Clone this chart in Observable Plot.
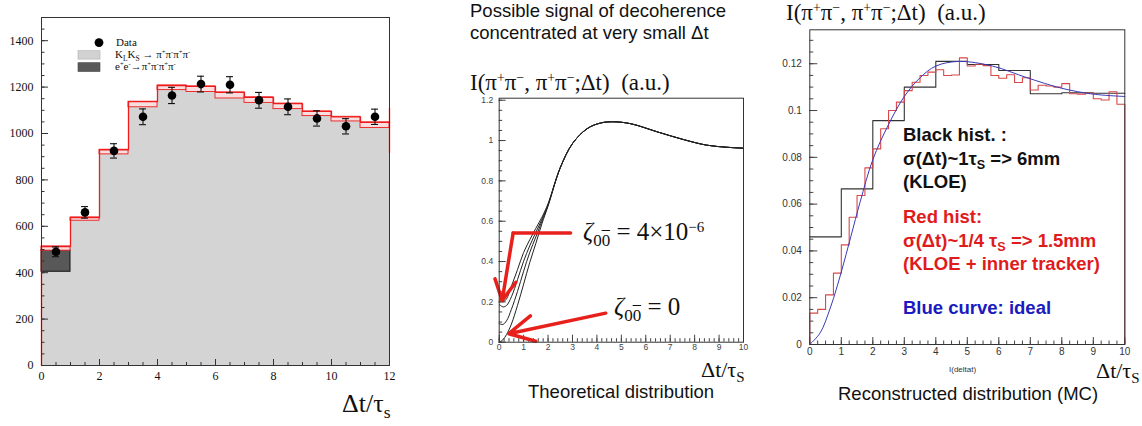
<!DOCTYPE html>
<html><head><meta charset="utf-8">
<script src="https://cdn.jsdelivr.net/npm/d3@7"></script>
<script src="https://cdn.jsdelivr.net/npm/@observablehq/plot@0.6"></script>
<style>
body{margin:0;background:#fff;}
#wrap{position:relative;width:1142px;height:426px;overflow:hidden;background:#fff;}
.abs{position:absolute;white-space:nowrap;line-height:1.1;}
.sans{font-family:"Liberation Sans",Arial,sans-serif;}
.serif{font-family:"Liberation Serif","Times New Roman",serif;}
sup{font-size:0.6em;vertical-align:0.55em;line-height:0;}
sub{font-size:0.68em;vertical-align:-0.35em;line-height:0;}
.ov{text-decoration:overline;}
</style></head><body>
<div id="wrap">
  <div id="p1" class="abs" style="left:0;top:0"></div>
  <div id="p2" class="abs" style="left:460px;top:90px"></div>
  <div id="p3" class="abs" style="left:770px;top:20px"></div>

  <!-- panel 1 legend -->
  <svg class="abs" style="left:0;top:0" width="260" height="80">
    <circle cx="99" cy="42.6" r="4.4" fill="#000"/>
    <rect x="78" y="50.7" width="22" height="8.4" fill="#d2d2d2" stroke="#b0b0b0" stroke-width="0.6"/>
    <rect x="78" y="62.7" width="22" height="8.8" fill="#5a5a5a" stroke="#444" stroke-width="0.6"/>
  </svg>
  <div class="abs serif" style="left:116px;top:36px;font-size:11px;color:#111">Data</div>
  <div class="abs serif" style="left:115px;top:47.5px;font-size:11px;color:#111">K<sub>L</sub>K<sub>S</sub> → π<sup>+</sup>π<sup>-</sup>π<sup>+</sup>π<sup>-</sup></div>
  <div class="abs serif" style="left:115px;top:60px;font-size:11px;color:#111">e<sup>+</sup>e<sup>-</sup>→π<sup>+</sup>π<sup>-</sup>π<sup>+</sup>π<sup>-</sup></div>
  <div class="abs serif" style="left:342px;top:390px;font-size:26px;color:#111">Δt/τ<sub>s</sub></div>

  <!-- panel 2 texts -->
  <div class="abs sans" style="left:470px;top:1px;font-size:18.5px;color:#111">Possible signal of decoherence</div>
  <div class="abs sans" style="left:470px;top:23px;font-size:18.5px;color:#111">concentrated at very small Δt</div>
  <div class="abs serif" style="left:470px;top:70px;font-size:23px;color:#111">I(π<sup>+</sup>π<sup>−</sup>, π<sup>+</sup>π<sup>−</sup>;Δt)&nbsp;&nbsp;(a.u.)</div>
  <div class="abs serif" style="left:583px;top:218px;font-size:25px;color:#111"><i>ζ</i><sub>0<span class="ov">0</span></sub> = 4×10<sup>−6</sup></div>
  <div class="abs serif" style="left:614px;top:293px;font-size:25px;color:#111"><i>ζ</i><sub>0<span class="ov">0</span></sub> = 0</div>
  <div class="abs serif" style="left:701px;top:358px;font-size:22px;color:#111">Δt/τ<sub>S</sub></div>
  <div class="abs sans" style="left:528px;top:382px;font-size:18.5px;color:#111">Theoretical distribution</div>

  <!-- panel 3 texts -->
  <div class="abs serif" style="left:786px;top:0px;font-size:23px;color:#111">I(π<sup>+</sup>π<sup>−</sup>, π<sup>+</sup>π<sup>−</sup>;Δt)&nbsp;&nbsp;(a.u.)</div>
  <div class="abs sans" style="left:903px;top:125px;font-size:18.5px;font-weight:bold;color:#111">Black hist. :</div>
  <div class="abs sans" style="left:903px;top:149px;font-size:18.5px;font-weight:bold;color:#111">σ(Δt)~1τ<sub>S</sub> =&gt; 6mm</div>
  <div class="abs sans" style="left:903px;top:172px;font-size:18.5px;font-weight:bold;color:#111">(KLOE)</div>
  <div class="abs sans" style="left:903px;top:207px;font-size:18.5px;font-weight:bold;color:#e01b1b">Red hist:</div>
  <div class="abs sans" style="left:903px;top:231px;font-size:18.5px;font-weight:bold;color:#e01b1b">σ(Δt)~1/4 τ<sub>S</sub> =&gt; 1.5mm</div>
  <div class="abs sans" style="left:903px;top:254px;font-size:18.5px;font-weight:bold;color:#e01b1b">(KLOE + inner tracker)</div>
  <div class="abs sans" style="left:903px;top:298px;font-size:18.5px;font-weight:bold;color:#1a1ac0">Blue curve: ideal</div>
  <div class="abs sans" style="left:949px;top:366px;font-size:8px;color:#333">I(deltat)</div>
  <div class="abs serif" style="left:1096px;top:359px;font-size:22px;color:#111">Δt/τ<sub>S</sub></div>
  <div class="abs sans" style="left:838px;top:384px;font-size:18.5px;color:#111">Reconstructed distribution (MC)</div>
</div>
<script>
// ---------------- Panel 1 data (bins of width 1 in Δt/τs) ----------------
const p1BinStart = [0,1,2,3,4,5,6,7,8,9,10,11];
const p1KLKS     = [404, 631, 920, 1125, 1197, 1191, 1164, 1144, 1117, 1085, 1062, 1036];
const p1EE       = [93, 0, 0, 0, 0, 0, 0, 0, 0, 0, 0, 0];
const p1McTotal  = [504, 631, 920, 1125, 1197, 1191, 1164, 1144, 1117, 1085, 1062, 1036];
const p1McErr    = [9, 7, 10, 12, 10, 12, 13, 12, 12, 10, 10, 12];
const p1Data     = [490, 660, 925, 1072, 1164, 1213, 1210, 1143, 1115, 1065, 1031, 1072];
const p1DataErr  = [21, 25, 31, 34, 35, 34, 35, 34, 34, 33, 33, 33];
const p1RightEdge = [913, 1108];
const p1XTicks = [0,2,4,6,8,10,12];
const p1YTicks = [0,200,400,600,800,1000,1200,1400];

// ---------------- Panel 2 data (theoretical curves) ----------------
const p2X      = [0,0.15,0.3,0.5,0.75,1.0,1.25,1.5,1.75,2.0,2.5,3.0,3.6,4.15,4.7,5.4,6.5,7.6,8.5,9.3,10];
const p2Zeta0  = [0,0.012,0.038,0.09,0.183,0.288,0.395,0.49,0.588,0.675,0.865,0.985,1.059,1.087,1.093,1.083,1.042,1.003,0.977,0.967,0.962];
const p2CurveB = [0.092,0.088,0.106,0.163,0.252,0.352,0.445,0.522,0.6,0.679,0.865,0.985,1.059,1.087,1.093,1.083,1.042,1.003,0.977,0.967,0.962];
const p2CurveC = [0.188,0.175,0.182,0.225,0.31,0.402,0.478,0.545,0.61,0.683,0.866,0.985,1.059,1.087,1.093,1.083,1.042,1.003,0.977,0.967,0.962];
const p2Zeta4  = [0.21,0.2,0.215,0.278,0.36,0.445,0.508,0.565,0.62,0.687,0.866,0.985,1.059,1.087,1.093,1.083,1.042,1.003,0.977,0.967,0.962];
const p2Arrow1 = {x:[2.92,0.57,0.12], y:[0.541,0.541,0.207]};
const p2Arrow2 = {x:[4.36,0.39], y:[0.144,0.042]};
const p2XTicks = [0,1,2,3,4,5,6,7,8,9,10];
const p2YTicks = [0,0.2,0.4,0.6,0.8,1,1.2];

// ---------------- Panel 3 data (reconstructed MC) ----------------
const p3BlackStart = [0,1,2,3,4,5,6,7,8,9];
const p3Black = [0.046,0.0665,0.0957,0.110,0.121,0.1197,0.1171,0.1072,0.1076,0.1074];
const p3RedWidth = 0.25;
const p3Red = [0.0134,0.0150,0.0212,0.0305,0.0426,0.0544,0.0637,0.0755,
               0.0836,0.0922,0.1000,0.1036,0.1085,0.1121,0.1150,0.1164,
               0.1174,0.1150,0.1152,0.1225,0.1190,0.1198,0.1192,0.1150,
               0.1138,0.1153,0.1120,0.1140,0.1088,0.1108,0.1105,0.1100,
               0.1115,0.1072,0.1070,0.1075,0.1050,0.1045,0.1080,0.1027];
const p3BlueX = [0,0.33,0.66,1,1.3,1.6,2.0,2.5,3.0,3.5,4.0,4.75,5.8,6.9,8.0,9.0,10];
const p3BlueY = [0,0.005,0.016,0.031,0.046,0.061,0.079,0.094,0.106,0.114,0.119,0.121,0.119,0.114,0.1095,0.107,0.106];
const p3XTicks = [0,1,2,3,4,5,6,7,8,9,10];
const p3YTicks = [0,0.02,0.04,0.06,0.08,0.1,0.12];

const plain = d => String(d);

// helper: inward ticks drawn through Plot tick marks
function inTicksX(vals, len, fh, stroke="#333") {
  return Plot.tickX(vals, {x: d => d, insetTop: fh - len, stroke, strokeWidth: 1});
}
function inTicksY(vals, len, fw, stroke="#333") {
  return Plot.tickY(vals, {y: d => d, insetRight: fw - len, stroke, strokeWidth: 1});
}

// ---------------- Panel 1 ----------------
{
  const W=400,H=390,ML=41,MR=11,MT=17,MB=25, fw=W-ML-MR, fh=H-MT-MB;
  const rows = p1BinStart.map((s,i)=>({x1:s,x2:s+1,xc:s+0.5,klks:p1KLKS[i],ee:p1EE[i],
     tot:p1McTotal[i],err:p1McErr[i],data:p1Data[i],derr:p1DataErr[i]}));
  const stepPts = [{x:0,y:0}, ...rows.map(r=>({x:r.x1,y:r.tot+r.err})), {x:12,y:rows[11].tot+rows[11].err}];
  const red="#ee1c1c";
  const chart = Plot.plot({
    width:W,height:H,marginLeft:ML,marginRight:MR,marginTop:MT,marginBottom:MB,
    style:{fontFamily:'"Liberation Serif","Times New Roman",serif',fontSize:"12px",color:"#111",background:"transparent"},
    x:{domain:[0,12],ticks:p1XTicks,tickSize:0,tickPadding:6,label:null,tickFormat:plain},
    y:{domain:[0,1500],ticks:p1YTicks,tickSize:0,tickPadding:8,label:null,tickFormat:plain},
    marks:[
      Plot.rect(rows,{x1:"x1",x2:"x2",y1:0,y2:"klks",fill:"#d4d4d4"}),
      Plot.rect(rows.filter(r=>r.ee>0),{x1:"x1",x2:"x2",y1:"klks",y2:r=>r.klks+r.ee,fill:"#585858",stroke:"#111",strokeWidth:1}),
      Plot.rect(rows,{x1:"x1",x2:"x2",y1:r=>r.tot-r.err,y2:r=>r.tot+r.err,fill:"#f8dede",stroke:red,strokeWidth:0.9}),
      Plot.line(stepPts,{x:"x",y:"y",curve:"step-after",stroke:red,strokeWidth:1.3}),
      Plot.ruleX([12],{y1:p1RightEdge[0],y2:p1RightEdge[1],stroke:red,strokeWidth:1.3}),
      inTicksX(d3.range(0,12.001,0.5),3,fh),
      inTicksX(p1XTicks,6,fh),
      inTicksY(d3.range(0,1500.1,50),3.5,fw),
      inTicksY(p1YTicks,7,fw),
      Plot.ruleX(rows,{x:"xc",y1:r=>r.data-r.derr,y2:r=>r.data+r.derr,stroke:"#111",strokeWidth:1.1}),
      Plot.ruleY(rows,{y:r=>r.data+r.derr,x1:r=>r.xc-0.12,x2:r=>r.xc+0.12,stroke:"#111",strokeWidth:1.1}),
      Plot.ruleY(rows,{y:r=>r.data-r.derr,x1:r=>r.xc-0.12,x2:r=>r.xc+0.12,stroke:"#111",strokeWidth:1.1}),
      Plot.dot(rows,{x:"xc",y:"data",r:4.3,fill:"#000"}),
      Plot.frame({stroke:"#333"})
    ]
  });
  document.getElementById("p1").appendChild(chart);
}

// ---------------- Panel 2 ----------------
{
  const W=300,H=270,ML=38.7,MR=17,MT=7.7,MB=18.3, fw=W-ML-MR, fh=H-MT-MB;
  const curves = [["zeta0",p2Zeta0],["b",p2CurveB],["c",p2CurveC],["zeta4",p2Zeta4]]
    .flatMap(([id,ys])=>ys.map((y,i)=>({id,x:p2X[i],y})));
  const a1 = p2Arrow1.x.map((x,i)=>({x,y:p2Arrow1.y[i]}));
  const red="#e8201c";
  const chart = Plot.plot({
    width:W,height:H,marginLeft:ML,marginRight:MR,marginTop:MT,marginBottom:MB,
    style:{fontFamily:'"Liberation Sans",Arial,sans-serif',fontSize:"8.5px",color:"#444",background:"transparent"},
    x:{domain:[0,10],ticks:p2XTicks,tickSize:0,tickPadding:2,label:null,tickFormat:plain},
    y:{domain:[0,1.21],ticks:p2YTicks,tickSize:0,tickPadding:6,label:null,tickFormat:plain},
    marks:[
      inTicksX(d3.range(0,10.001,0.2),3.5,fh,"#444"),
      inTicksX(p2XTicks,7,fh,"#444"),
      inTicksY(d3.range(0,1.2001,0.05),3.5,fw,"#444"),
      inTicksY(p2YTicks,7,fw,"#444"),
      Plot.line(curves,{x:"x",y:"y",z:"id",stroke:"#222",strokeWidth:1,curve:"catmull-rom"}),
      Plot.line(a1.slice(0,2),{x:"x",y:"y",stroke:red,strokeWidth:3.5}),
      Plot.arrow([0],{x1:a1[1].x,y1:a1[1].y,x2:a1[2].x,y2:a1[2].y,stroke:red,strokeWidth:3.5,headLength:12,headAngle:55}),
      Plot.arrow([0],{x1:p2Arrow2.x[0],y1:p2Arrow2.y[0],x2:p2Arrow2.x[1],y2:p2Arrow2.y[1],stroke:red,strokeWidth:3.5,headLength:12,headAngle:55}),
      Plot.frame({stroke:"#333"})
    ]
  });
  document.getElementById("p2").appendChild(chart);
}

// ---------------- Panel 3 ----------------
{
  const W=372,H=340,ML=39.3,MR=17.7,MT=9.3,MB=16, fw=W-ML-MR, fh=H-MT-MB;
  const black = [...p3BlackStart.map((s,i)=>({x:s,y:p3Black[i]})), {x:10,y:p3Black[p3Black.length-1]}];
  const redPts = [{x:0,y:0}, ...p3Red.map((v,i)=>({x:i*p3RedWidth,y:v})), {x:10,y:p3Red[p3Red.length-1]}, {x:10,y:0}];
  const blue = p3BlueX.map((x,i)=>({x,y:p3BlueY[i]}));
  const chart = Plot.plot({
    width:W,height:H,marginLeft:ML,marginRight:MR,marginTop:MT,marginBottom:MB,
    style:{fontFamily:'"Liberation Sans",Arial,sans-serif',fontSize:"10px",color:"#333",background:"transparent"},
    x:{domain:[0,10],ticks:p3XTicks,tickSize:0,tickPadding:3,label:null,tickFormat:plain},
    y:{domain:[0,0.1345],ticks:p3YTicks,tickSize:0,tickPadding:8,label:null,tickFormat:plain},
    marks:[
      inTicksX(d3.range(0,10.001,0.25),3.5,fh,"#444"),
      inTicksX(p3XTicks,7,fh,"#444"),
      inTicksY(d3.range(0,0.1301,0.005),4,fw,"#444"),
      inTicksY(p3YTicks,8,fw,"#444"),
      Plot.line(black,{x:"x",y:"y",curve:"step-after",stroke:"#333",strokeWidth:1.1}),
      Plot.line(redPts,{x:"x",y:"y",curve:"step-after",stroke:"#d84848",strokeWidth:1.1}),
      Plot.line(blue,{x:"x",y:"y",curve:"catmull-rom",stroke:"#3a3ab8",strokeWidth:1}),
      Plot.frame({stroke:"#333"})
    ]
  });
  document.getElementById("p3").appendChild(chart);
}
</script>
</body></html>
